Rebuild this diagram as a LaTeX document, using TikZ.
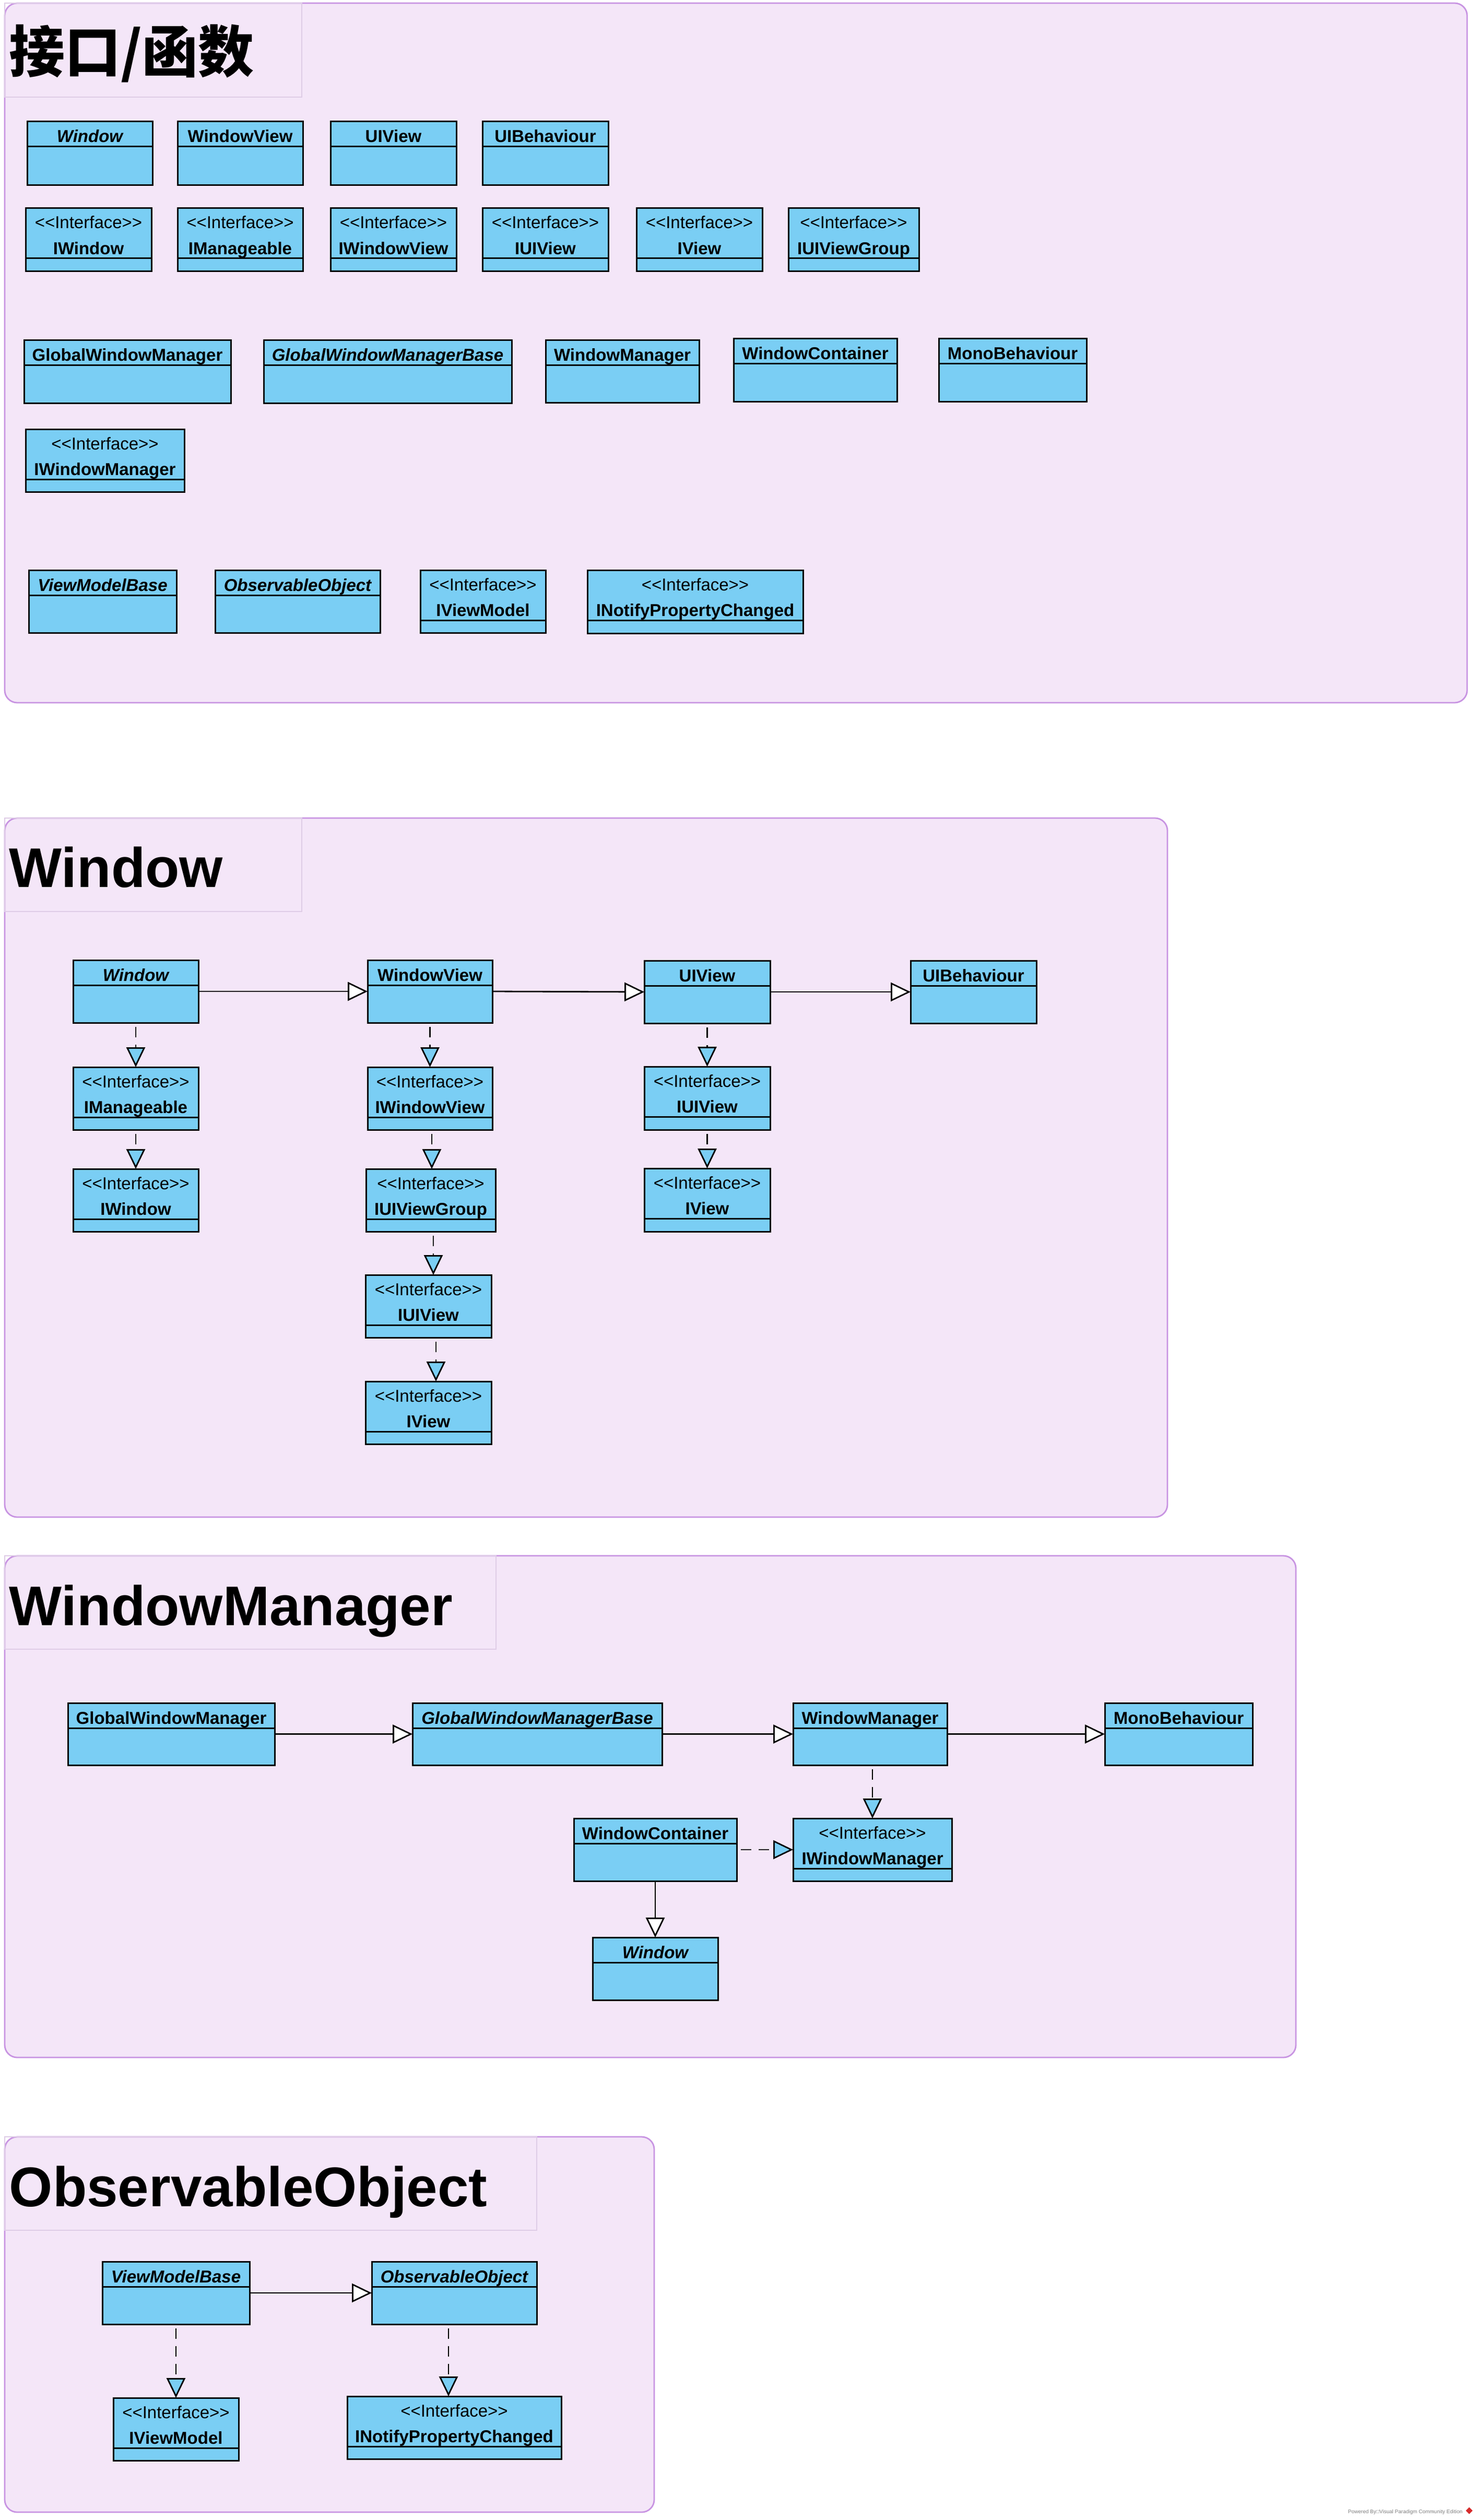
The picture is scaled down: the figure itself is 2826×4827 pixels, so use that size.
\documentclass[tikz,border=0pt]{standalone}
\usepackage{fontspec}
\setmainfont{Liberation Sans}
\newfontfamily\cjk{Noto Sans CJK SC}
\usetikzlibrary{arrows.meta,fit}
\definecolor{umlblue}{RGB}{122,206,244}
\definecolor{pfill}{RGB}{244,230,248}
\definecolor{pborder}{RGB}{200,148,226}
\definecolor{tborder}{RGB}{222,204,230}
\definecolor{vpred}{RGB}{214,44,44}
\newcommand{\stereotxt}{<\kern0pt<Interface>\kern0pt>}
\tikzset{
 umlbox/.style={draw=black, fill=umlblue, line width=0.75pt, inner sep=0pt, outer sep=0pt},
 divline/.style={line width=0.75pt},
 clsname/.style={font=\fontsize{8.25}{9}\selectfont\bfseries, anchor=base, inner sep=0pt},
 absname/.style={font=\fontsize{8.25}{9}\selectfont\bfseries\itshape, anchor=base, inner sep=0pt},
 stname/.style={font=\fontsize{8.25}{9}\selectfont, anchor=base, inner sep=0pt},
 panel/.style={draw=pborder, fill=pfill, line width=0.7pt, rounded corners=6pt, inner sep=0pt, outer sep=0pt},
 titlebox/.style={draw=tborder, line width=0.3pt, inner sep=0pt, outer sep=0pt},
 ptitle/.style={font=\fontsize{26.75}{32}\selectfont\bfseries, anchor=base west, inner sep=0pt},
 gen/.style={line width=0.7pt, -{Triangle[length=9.5pt,width=9pt,fill=white]}},
 real/.style={line width=0.7pt, dash pattern=on 5pt off 3.5pt, shorten <=2pt, -{Triangle[length=9.5pt,width=9pt,fill=umlblue]}},
}
% class box: name, x1, y1, x2, y2, text style, text
\newcommand{\ucls}[7]{%
  \node[umlbox, fit={(#2,#3) (#4,#5)}] (#1) {};
  \draw[divline] ([yshift=-12pt]#1.north west) -- ([yshift=-12pt]#1.north east);
  \node[#6] (#1-t) at ([yshift=-10pt]#1.north) {#7};
}
% interface box: name, x1, y1, x2, y2, text
\newcommand{\uifc}[6]{%
  \node[umlbox, fit={(#2,#3) (#4,#5)}] (#1) {};
  \draw[divline] ([yshift=-24pt]#1.north west) -- ([yshift=-24pt]#1.north east);
  \node[stname] (#1-s) at ([yshift=-9.75pt]#1.north) {\stereotxt};
  \node[clsname] (#1-t) at ([yshift=-22pt]#1.north) {#6};
}
\begin{document}
\begin{tikzpicture}[x=0.25pt,y=-0.25pt]
\useasboundingbox[fill=white] (0,0) rectangle (2826,4827);

% ---------- panels ----------
\node[panel, fit={(9,6) (2810,1346)}] (p1) {};
\node[titlebox, fit={(9,6) (578,186)}] (tb1) {};
\node[ptitle] (t1) at (17,139) {\cjk\bfseries 接口/函数};

\node[panel, fit={(9,1567) (2236,2906)}] (p2) {};
\node[titlebox, fit={(9,1567) (578,1746)}] (tb2) {};
\node[ptitle] (t2) at (17,1699) {Window};

\node[panel, fit={(9,2980) (2482,3941)}] (p3) {};
\node[titlebox, fit={(9,2980) (950,3159)}] (tb3) {};
\node[ptitle] (t3) at (17,3113) {WindowManager};

\node[panel, fit={(9,4093) (1253,4812)}] (p4) {};
\node[titlebox, fit={(9,4093) (1028,4272)}] (tb4) {};
\node[ptitle] (t4) at (17,4226) {ObservableObject};

% ---------- panel 1 ----------
\ucls{win1}{52}{233}{292}{355}{absname}{Window}
\ucls{wv1}{340}{233}{580}{355}{clsname}{WindowView}
\ucls{uiv1}{633}{233}{874}{355}{clsname}{UIView}
\ucls{uib1}{924}{233}{1165}{355}{clsname}{UIBehaviour}

\uifc{iw1}{49}{399}{290}{520}{IWindow}
\uifc{im1}{340}{399}{580}{520}{IManageable}
\uifc{iwv1}{633}{399}{874}{520}{IWindowView}
\uifc{iuiv1}{924}{399}{1165}{520}{IUIView}
\uifc{iv1}{1219}{399}{1460}{520}{IView}
\uifc{iuivg1}{1510}{399}{1760}{520}{IUIViewGroup}

\ucls{gwm1}{46}{651}{442}{772}{clsname}{GlobalWindowManager}
\ucls{gwmb1}{505}{651}{980}{772}{absname}{GlobalWindowManagerBase}
\ucls{wm1}{1045}{651}{1339}{771}{clsname}{WindowManager}
\ucls{wc1}{1405}{648}{1718}{769}{clsname}{WindowContainer}
\ucls{mono1}{1798}{648}{2081}{769}{clsname}{MonoBehaviour}

\uifc{iwm1}{49}{822}{353}{942}{IWindowManager}

\ucls{vmb1}{55}{1092}{338}{1212}{absname}{ViewModelBase}
\ucls{oo1}{412}{1092}{728}{1212}{absname}{ObservableObject}
\uifc{ivm1}{805}{1092}{1045}{1212}{IViewModel}
\uifc{inpc1}{1125}{1092}{1538}{1213}{INotifyPropertyChanged}

% ---------- panel 2 ----------
\ucls{win2}{140}{1839}{380}{1959}{absname}{Window}
\ucls{wv2}{704}{1839}{943}{1959}{clsname}{WindowView}
\ucls{uiv2}{1234}{1840}{1475}{1960}{clsname}{UIView}
\ucls{uib2}{1744}{1840}{1985}{1960}{clsname}{UIBehaviour}

\uifc{im2}{140}{2044}{380}{2164}{IManageable}
\uifc{iw2}{140}{2239}{380}{2359}{IWindow}

\uifc{iwv2}{704}{2044}{943}{2164}{IWindowView}
\uifc{iuivg2}{701}{2239}{949}{2359}{IUIViewGroup}
\uifc{iuiv2}{700}{2442}{941}{2562}{IUIView}
\uifc{iv2}{700}{2646}{941}{2766}{IView}

\uifc{iuiv2b}{1234}{2043}{1475}{2164}{IUIView}
\uifc{iv2b}{1234}{2238}{1475}{2359}{IView}

\draw[gen] (win2.east) -- (wv2.west);
\draw[gen] (wv2.east) -- (uiv2.west);
\draw[gen] (uiv2.east) -- (uib2.west);
\draw[real] (win2.south) -- (im2.north);
\draw[real] (im2.south) -- (iw2.north);
\draw[real] (wv2.south) -- (iwv2.north);
\coordinate (c827) at (827,0);
\coordinate (c830) at (830,0);
\coordinate (c835) at (835,0);
\draw[real] (iwv2.south -| c827) -- (iuivg2.north -| c827);
\draw[real] (iuivg2.south -| c830) -- (iuiv2.north -| c830);
\draw[real] (iuiv2.south -| c835) -- (iv2.north -| c835);
\draw[real] (uiv2.south) -- (iuiv2b.north);
\draw[real] (iuiv2b.south) -- (iv2b.north);

% ---------- panel 3 ----------
\ucls{gwm3}{130}{3262}{526}{3381}{clsname}{GlobalWindowManager}
\ucls{gwmb3}{790}{3262}{1268}{3381}{absname}{GlobalWindowManagerBase}
\ucls{wm3}{1519}{3262}{1814}{3381}{clsname}{WindowManager}
\ucls{mono3}{2116}{3262}{2399}{3381}{clsname}{MonoBehaviour}
\ucls{wc3}{1099}{3483}{1411}{3603}{clsname}{WindowContainer}
\uifc{iwm3}{1519}{3483}{1823}{3603}{IWindowManager}
\ucls{win3}{1135}{3711}{1375}{3831}{absname}{Window}

\draw[gen] (gwm3.east) -- (gwmb3.west);
\draw[gen] (gwmb3.east) -- (wm3.west);
\draw[gen] (wm3.east) -- (mono3.west);
\draw[real] (wm3.south -| iwm3.north) -- (iwm3.north);
\draw[real] (wc3.east) -- (iwm3.west);
\draw[gen] (wc3.south) -- (win3.north);

% ---------- panel 4 ----------
\ucls{vmb4}{196}{4332}{478}{4452}{absname}{ViewModelBase}
\ucls{oo4}{712}{4332}{1028}{4452}{absname}{ObservableObject}
\uifc{ivm4}{217}{4593}{457}{4713}{IViewModel}
\uifc{inpc4}{665}{4590}{1075}{4710}{INotifyPropertyChanged}

\draw[gen] (vmb4.east) -- (oo4.west);
\draw[real] (vmb4.south) -- (ivm4.north);
\coordinate (c859) at (859,0);
\draw[real] (oo4.south -| c859) -- (inpc4.north -| c859);

% ---------- watermark ----------
\node[anchor=base east, font=\fontsize{2.5}{3}\selectfont, text=black!50, inner sep=0pt] (vpwm) at (2802,4814) {Powered By□Visual Paradigm Community Edition};
\node[fill=vpred, minimum size=2.3pt, inner sep=0pt, rotate=45] (vplogo) at (2814,4809) {};
\end{tikzpicture}
\end{document}
